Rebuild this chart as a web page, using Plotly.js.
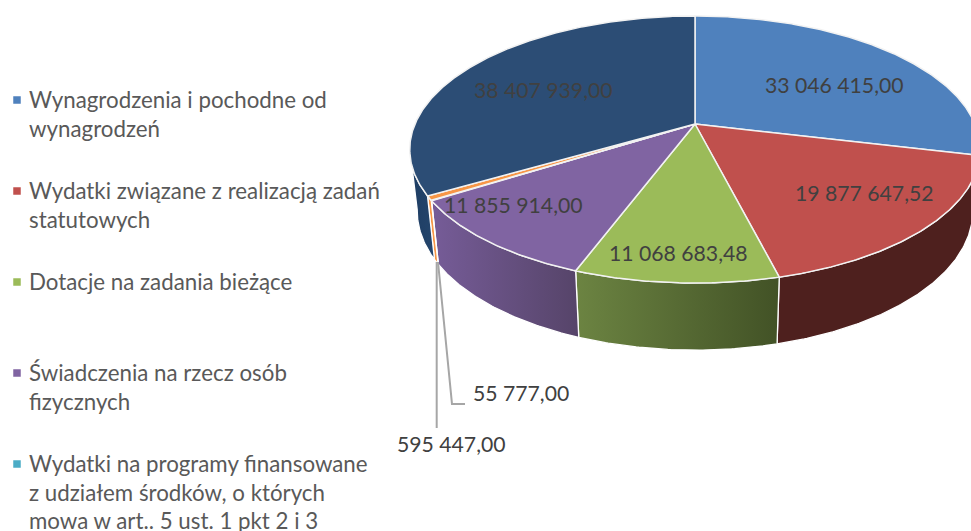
<!DOCTYPE html>
<html><head><meta charset="utf-8">
<script src="https://cdn.plot.ly/plotly-3.0.1.min.js"></script>
<style>html,body{margin:0;padding:0;background:#fff;overflow:hidden}#c{width:971px;height:531px}</style>
</head><body><div id="c"></div>
<script>
// ---- data ----
const categories = [
  "Wynagrodzenia i pochodne od<br>wynagrodzeń",
  "Wydatki związane z realizacją zadań<br>statutowych",
  "Dotacje na zadania bieżące",
  "Świadczenia na rzecz osób<br>fizycznych",
  "Wydatki na programy finansowane<br>z udziałem środków, o których<br>mowa w art.. 5 ust. 1 pkt 2 i 3"
];
const values = [33046415.00, 19877647.52, 11068683.48, 11855914.00, 55777.00, 595447.00, 38407939.00];
const valueLabels = ["33 046 415,00","19 877 647,52","11 068 683,48","11 855 914,00","55 777,00","595 447,00","38 407 939,00"];
// ---- style ----
const topColors = ["#4F81BD","#C0504D","#9BBB59","#8064A2","#4BACC6","#F79646","#2C4D75"];
const wallFrom  = ["#2A4568","#4E201E","#6C8442","#765C98","#4BACC6","#F79646","#1E3D63"];
const wallTo    = ["#2A4568","#4E201E","#425226","#564469","#4BACC6","#F79646","#24456C"];
const labelPos  = [[834,85],[864,193],[678,253],[513,205],[521,393],[451,444],[543,90]];
const legendY   = [100,191,282,373,464];
const legendRow = 28.7;
const leaders   = [[[438,262],[452,404],[465,404]],[[436.7,262],[436.7,428]]];
// ---- projection of a tilted disc ----
const C = {x:695,y:124,R:280,S:128.7,k:0.191,shrink:0.974,d0:60,d1:7};
function topPt(t){const r=t*Math.PI/180,u=Math.sin(r),v=Math.cos(r),w=1+C.k*v;
  return [C.x+C.R*u/w, C.y-C.S*v/w, v];}
function botPt(t){const p=topPt(t);
  return [C.x+(p[0]-C.x)*C.shrink, p[1]+C.d0-C.d1*p[2]];}
function range(a,b){const n=Math.max(2,Math.ceil((b-a)/0.5)),o=[];for(let i=0;i<=n;i++)o.push(a+(b-a)*i/n);return o;}
const total = values.reduce((a,b)=>a+b,0);
let acc=0; const spans = values.map(v=>{const s=acc/total*360;acc+=v;return [s,acc/total*360];});
const traces=[];
// visible side walls
const visA=101, visB=259.5;
spans.forEach((s,i)=>{
  const a=Math.max(s[0],visA), b=Math.min(s[1],visB);
  if(b<=a) return;
  const ts=range(a,b), up=ts.map(topPt), lo=ts.slice().reverse().map(botPt);
  const pts=up.concat(lo); pts.push(up[0]);
  traces.push({type:'scatter',mode:'lines',x:pts.map(p=>p[0]),y:pts.map(p=>p[1]),fill:'toself',
    fillcolor:wallFrom[i],
    fillgradient:{type:'horizontal',colorscale:[[0,wallFrom[i]],[1,wallTo[i]]]},
    line:{color:'#fff',width:1.3},hoverinfo:'skip',showlegend:false});
});
// top wedges
spans.forEach((s,i)=>{
  const ar=range(s[0],s[1]).map(topPt);
  const pts=[[C.x,C.y]].concat(ar); pts.push([C.x,C.y]);
  traces.push({type:'scatter',mode:'lines',x:pts.map(p=>p[0]),y:pts.map(p=>p[1]),fill:'toself',
    fillcolor:topColors[i],line:{color:'#F2F2F2',width:1.5},hoverinfo:'skip',showlegend:false});
});
// leader lines
leaders.forEach(l=>traces.push({type:'scatter',mode:'lines',x:l.map(p=>p[0]),y:l.map(p=>p[1]),
  line:{color:'#A6A6A6',width:2},hoverinfo:'skip',showlegend:false}));
// legend swatches
traces.push({type:'scatter',mode:'markers',x:legendY.map(()=>17),y:legendY,
  marker:{symbol:'square',size:7.5,color:topColors.slice(0,5)},hoverinfo:'skip',showlegend:false});
const ann=[];
valueLabels.forEach((t,i)=>ann.push({x:labelPos[i][0],y:labelPos[i][1],text:t,showarrow:false,
  xanchor:'center',yanchor:'middle',font:{family:'Lato, Carlito, sans-serif',size:21.2,color:'#404040'}}));
categories.forEach((t,i)=>{
  t.split('<br>').forEach((ln,j)=>ann.push({x:27,y:legendY[i]+j*legendRow-0.5,text:ln,showarrow:false,xanchor:'left',yanchor:'middle',
    font:{family:'Lato, Carlito, sans-serif',size:22.3,color:'#595959'}}));
});
Plotly.newPlot('c',traces,{
  width:971,height:531,margin:{l:0,r:0,t:0,b:0},paper_bgcolor:'#fff',plot_bgcolor:'#fff',showlegend:false,
  xaxis:{range:[0,971],visible:false,fixedrange:true},
  yaxis:{range:[531,0],visible:false,fixedrange:true},
  annotations:ann
},{displayModeBar:false,staticPlot:true});
</script></body></html>
